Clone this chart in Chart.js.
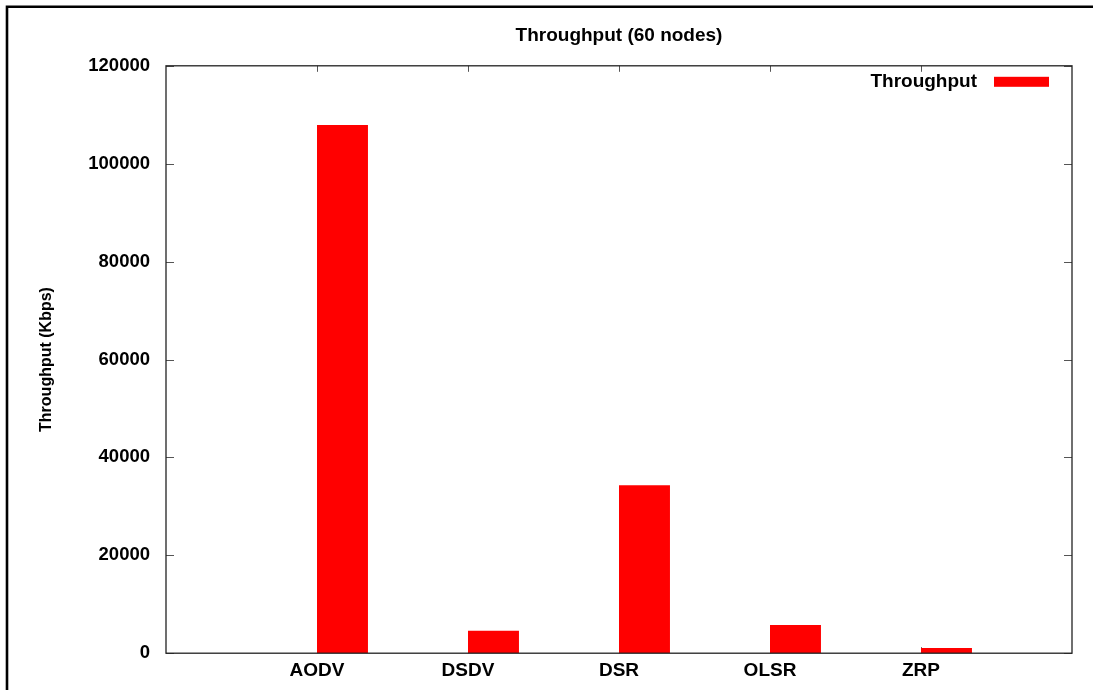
<!DOCTYPE html>
<html>
<head>
<meta charset="utf-8">
<title>Throughput (60 nodes)</title>
<script src="https://cdn.jsdelivr.net/npm/chart.js@4.4.1/dist/chart.umd.min.js"></script>
<style>
  html, body { margin: 0; padding: 0; background: #fff; }
  #wrap { width: 1093px; height: 690px; }
</style>
</head>
<body>
<div id="wrap"><canvas id="throughputChart" width="1093" height="690"></canvas></div>
<script>
// data
const categories = ['AODV', 'DSDV', 'DSR', 'OLSR', 'ZRP'];
const throughput = [107900, 4600, 34300, 5780, 1050];
const yTicks = [0, 20000, 40000, 60000, 80000, 100000, 120000];

const FONT = "'Liberation Sans', Arial, Helvetica, sans-serif";

// gnuplot look: inward ticks on all four sides, plot box, legend inside, outer frame
const gnuplotFrame = {
  id: 'gnuplotFrame',
  beforeDatasetsDraw(chart) {
    const { ctx, chartArea: a, scales: { x, y } } = chart;
    ctx.save();
    ctx.strokeStyle = '#555';
    ctx.lineWidth = 1;
    ctx.beginPath();
    y.ticks.forEach(t => {
      const py = Math.round(y.getPixelForValue(t.value)) + 0.5;
      ctx.moveTo(a.left, py); ctx.lineTo(a.left + 8, py);
      ctx.moveTo(a.right, py); ctx.lineTo(a.right - 8, py);
    });
    categories.forEach((c, i) => {
      const px = Math.round(x.getPixelForValue(i)) + 0.5;
      ctx.moveTo(px, a.top); ctx.lineTo(px, a.top + 6);
      ctx.moveTo(px, a.bottom); ctx.lineTo(px, a.bottom - 6);
    });
    ctx.stroke();
    ctx.restore();
  },
  afterDatasetsDraw(chart) {
    const { ctx, chartArea: a } = chart;
    ctx.save();
    // plot box
    ctx.strokeStyle = '#222';
    ctx.lineWidth = 1.3;
    ctx.strokeRect(a.left, a.top, a.right - a.left, a.bottom - a.top);

    // legend (text left, swatch right, like gnuplot)
    chart.data.datasets.filter(d => d.label).forEach(d => {
      ctx.font = 'bold 19px ' + FONT;
      ctx.fillStyle = '#000';
      ctx.textAlign = 'right';
      ctx.textBaseline = 'alphabetic';
      ctx.fillText(d.label, a.right - 95, a.top + 21.5);
      ctx.fillStyle = d.backgroundColor;
      ctx.fillRect(a.right - 78, a.top + 11, 55, 10);
    });

    // outer figure frame (cropped on right/bottom)
    ctx.strokeStyle = '#000';
    ctx.lineWidth = 2.6;
    ctx.beginPath();
    ctx.moveTo(7, chart.height);
    ctx.lineTo(7, 6.8);
    ctx.lineTo(chart.width, 6.8);
    ctx.stroke();
    ctx.restore();
  }
};

const ctx = document.getElementById('throughputChart').getContext('2d');

new Chart(ctx, {
  type: 'bar',
  data: {
    datasets: [
      {
        // empty first column of the gnuplot histogram, pushes the bar right of the tick
        label: '',
        data: [],
        backgroundColor: 'rgba(0,0,0,0)'
      },
      {
        label: 'Throughput',
        data: categories.map((c, i) => ({ x: i, y: throughput[i] })),
        backgroundColor: '#ff0000',
        borderWidth: 0
      }
    ]
  },
  options: {
    responsive: false,
    animation: false,
    categoryPercentage: 0.675,
    barPercentage: 1,
    layout: {
      padding: { left: 0, right: 21, top: 0, bottom: 2 }
    },
    scales: {
      x: {
        type: 'linear',
        offset: false,
        min: -1,
        max: categories.length,
        grid: { display: false, drawTicks: false },
        border: { display: false },
        ticks: {
          stepSize: 1,
          autoSkip: false,
          maxRotation: 0,
          padding: 6,
          color: '#000',
          font: { family: FONT, size: 19, weight: 'bold' },
          callback: v => categories[v] ?? ''
        }
      },
      y: {
        min: yTicks[0],
        max: yTicks[yTicks.length - 1],
        grid: { display: false, drawTicks: false },
        border: { display: false },
        ticks: {
          stepSize: yTicks[1] - yTicks[0],
          padding: 16,
          color: '#000',
          font: { family: FONT, size: 18.5, weight: 'bold' },
          callback: v => String(v)
        },
        title: {
          display: true,
          text: 'Throughput (Kbps)',
          color: '#000',
          font: { family: FONT, size: 16, weight: 'bold' },
          padding: { top: 37, bottom: 0 }
        },
        afterFit(scale) {
          scale.width = 166;
        }
      }
    },
    plugins: {
      legend: { display: false },
      tooltip: { enabled: false },
      title: {
        display: true,
        text: 'Throughput (60 nodes)',
        fullSize: false,
        color: '#000',
        font: { family: FONT, size: 19, weight: 'bold' },
        padding: { top: 24, bottom: 19 }
      }
    }
  },
  plugins: [gnuplotFrame]
});
</script>
</body>
</html>
